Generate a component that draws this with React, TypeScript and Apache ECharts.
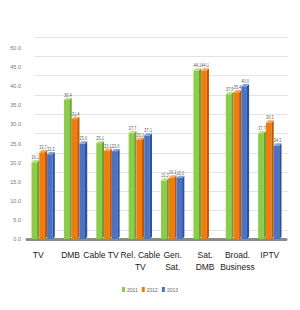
import React, { useEffect, useRef } from "react";
import * as echarts from "echarts";

const categories = ["TV", "DMB", "Cable TV", "Rel. Cable\nTV", "Gen.\nSat.", "Sat.\nDMB", "Broad.\nBusiness", "IPTV"];
const years = ["2011", "2012", "2013"];
const values2011 = [20.1, 36.4, 25.1, 27.7, 15.3, 44.1, 37.9, 27.7];
const values2012 = [22.7, 31.4, 23.1, 26.0, 16.1, 44.1, 38.4, 30.5];
const values2013: (number | null)[] = [22.2, 25.0, 23.0, 27.1, 16.0, null, 40.0, 24.5];

const palette = [
  { front: "#8dcc4a", side: "#67a12c", top: "#b9e283" },
  { front: "#f27b0c", side: "#bd5700", top: "#f8a65a" },
  { front: "#4a72c6", side: "#2e4f99", top: "#86a2dc" },
];

const labelFont = "'Liberation Sans', 'Noto Sans CJK KR', sans-serif";
const leftShift: Record<string, string> = { TV: "s10", DMB: "s10", "Cable TV": "s14" };

export default function App() {
  const ref = useRef<HTMLDivElement>(null);
  useEffect(() => {
    const chart = echarts.init(ref.current!, null, { renderer: "svg" });
    const all = [values2011, values2012, values2013];
    const makeSeries = (idx: number) => ({
      type: "custom",
      name: years[idx],
      xAxisIndex: 0,
      yAxisIndex: 0,
      itemStyle: { color: palette[idx].front },
      data: all[idx].map((v, i) => [i, v == null ? "-" : v]),
      renderItem: (params: any, api: any) => {
        const v = api.value(1);
        if (v == null || isNaN(v)) return null;
        const cat = api.value(0);
        const topPt = api.coord([cat, v]);
        const basePt = api.coord([cat, 0]);
        const band = api.size([1, 0])[0];
        const groupW = band * 0.72;
        const barW = groupW / 3;
        const left = topPt[0] - groupW / 2 + idx * barW;
        const d = 2.2;
        const fw = barW - d;
        const top = topPt[1];
        const base = basePt[1];
        const c = palette[idx];
        return {
          type: "group",
          children: [
            {
              type: "rect",
              shape: { x: left, y: top, width: fw, height: base - top },
              style: { fill: c.front },
            },
            {
              type: "polygon",
              shape: { points: [[left + fw, top], [left + barW, top - d], [left + barW, base - d], [left + fw, base]] },
              style: { fill: c.side },
            },
            {
              type: "polygon",
              shape: { points: [[left, top], [left + d, top - d], [left + barW, top - d], [left + fw, top]] },
              style: { fill: c.top },
            },
            {
              type: "text",
              x: left + barW / 2,
              y: top - d - 1,
              scaleX: 0.72,
              style: {
                text: v.toFixed(1),
                x: 0,
                y: 0,
                align: "center",
                verticalAlign: "bottom",
                fontSize: 5.5,
                fill: "#555",
                fontFamily: "Noto Sans CJK KR",
              },
            },
          ],
        };
      },
    });
    const richBase = { fontSize: 8.5, color: "#222", fontFamily: labelFont, lineHeight: 12 };
    chart.setOption({
      animation: false,
      backgroundColor: "#fff",
      legend: {
        data: years,
        top: 282,
        left: "center",
        icon: "rect",
        itemWidth: 3,
        itemHeight: 5,
        itemGap: 4,
        textStyle: { fontSize: 5, color: "#666", padding: [0, 0, 0, -3] },
      },
      grid: [
        { left: 27, right: 14, top: 48, bottom: 71 },
        { left: 35, right: 12, top: 37, bottom: 80 },
      ],
      xAxis: [
        {
          type: "category",
          gridIndex: 0,
          data: categories,
          axisTick: { show: false },
          axisLine: { lineStyle: { color: "#8a8a8a", width: 3 } },
          axisLabel: {
            interval: 0,
            margin: 10,
            fontSize: 8.5,
            lineHeight: 12,
            color: "#222",
            fontFamily: labelFont,
            formatter: (v: string) => (leftShift[v] ? `{${leftShift[v]}|${v}}` : v),
            rich: {
              s10: { ...richBase, padding: [0, 10, 0, 0] },
              s14: { ...richBase, padding: [0, 14, 0, 0] },
            },
          },
        },
        { type: "category", gridIndex: 1, data: categories, show: false },
      ],
      yAxis: [
        {
          type: "value",
          gridIndex: 0,
          min: 0,
          max: 50,
          interval: 5,
          splitLine: { show: false },
          axisLine: { show: false },
          axisTick: { show: false },
          axisLabel: { fontSize: 5.5, color: "#777", margin: 6, formatter: (v: number) => v.toFixed(1) },
        },
        {
          type: "value",
          gridIndex: 1,
          min: 0,
          max: 50,
          interval: 5,
          axisLine: { show: false },
          axisTick: { show: false },
          axisLabel: { show: false },
          splitLine: { lineStyle: { color: "#e3e3e3" } },
        },
      ],
      series: [makeSeries(0), makeSeries(1), makeSeries(2)],
    });
    return () => chart.dispose();
  }, []);
  return <div ref={ref} style={{ width: 300, height: 310, margin: -8 }} />;
}
